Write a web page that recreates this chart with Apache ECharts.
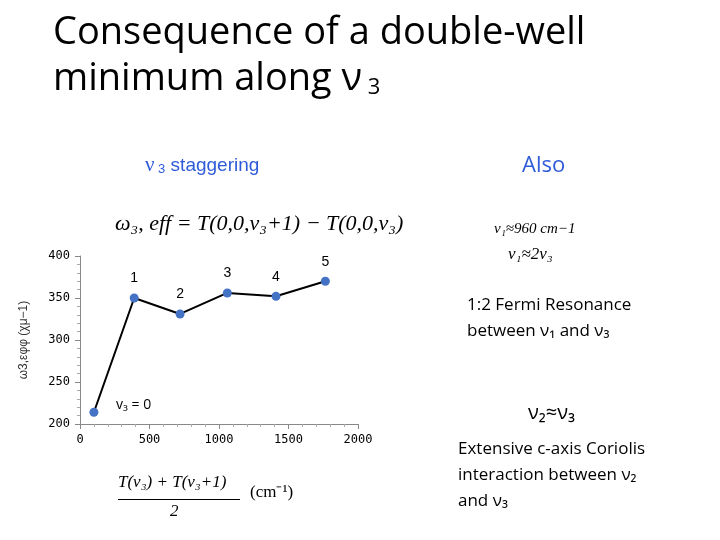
<!DOCTYPE html>
<html>
<head>
<meta charset="utf-8">
<script src="https://cdn.jsdelivr.net/npm/echarts@6/dist/echarts.min.js"></script>
<style>html,body{margin:0;padding:0;background:#fff}#main{width:720px;height:540px}</style>
</head>
<body>
<div id="main"></div>
<script>
// data
const xValues = [100, 390, 720, 1060, 1410, 1765];
const yValues = [214, 350, 331, 356, 352, 370];
const pointLabels = ['', '1', '2', '3', '4', '5'];
const xTicks = [0, 500, 1000, 1500, 2000];
const yTicks = [200, 250, 300, 350, 400];

const chart = echarts.init(document.getElementById('main'));
const txt = (x, y, text, size, color, extra) => ({
  type: 'text', left: x, top: y,
  style: Object.assign({ text: text, fontSize: size, fill: color || '#000', fontFamily: 'Open Sans' }, extra || {})
});
const serif = { fontFamily: 'Liberation Serif', fontStyle: 'italic' };

chart.setOption({
  animation: false,
  grid: { left: 80, right: 362, top: 256, bottom: 116 },
  xAxis: {
    type: 'value', min: 0, max: 2000, interval: 500,
    axisLine: { lineStyle: { color: '#888' } },
    axisTick: { show: true, lineStyle: { color: '#888' } },
    minorTick: { show: true, splitNumber: 5, lineStyle: { color: '#aaa' } },
    splitLine: { show: false },
    axisLabel: { color: '#000', fontSize: 12, fontFamily: 'DejaVu Sans Mono', margin: 10,
      formatter: v => xTicks.includes(v) ? String(v) : '' }
  },
  yAxis: {
    type: 'value', min: 200, max: 400, interval: 50,
    name: 'ω3,εφφ (χμ−1)', nameLocation: 'middle', nameGap: 50,
    nameTextStyle: { color: '#333', fontSize: 12 },
    axisLine: { show: true, lineStyle: { color: '#888' } },
    axisTick: { show: true, lineStyle: { color: '#888' } },
    minorTick: { show: true, splitNumber: 5, lineStyle: { color: '#aaa' } },
    splitLine: { show: false },
    axisLabel: { color: '#000', fontSize: 12, fontFamily: 'DejaVu Sans Mono', margin: 10,
      formatter: v => yTicks.includes(v) ? String(v) : '' }
  },
  series: [{
    type: 'line',
    data: xValues.map((x, i) => [x, yValues[i]]),
    symbol: 'circle', symbolSize: 9,
    lineStyle: { color: '#000', width: 2 },
    itemStyle: { color: '#4472c4' },
    label: {
      show: true, position: 'top', distance: 8, fontSize: 14, color: '#000',
      formatter: p => pointLabels[p.dataIndex]
    }
  }],
  graphic: [
    txt(53, 14, 'Consequence of a double-well', 38, '#000', { letterSpacing: -0.5 }),
    txt(53, 60, '{a|minimum along ν}{s| 3}', 38, '#000', {
      letterSpacing: -0.5,
      rich: { a: { fontSize: 38, fontFamily: 'Open Sans' }, s: { fontSize: 22, fontFamily: 'Open Sans', padding: [18, 0, 0, 0] } }
    }),
    txt(145, 155, '{a|ν}{s| 3}{b| staggering}', 20, '#2e5bd9', {
      rich: { a: { fontSize: 21, fontFamily: 'Liberation Serif', color: '#2e5bd9' },
        s: { fontSize: 13, color: '#2e5bd9', padding: [8, 0, 0, 0] },
        b: { fontSize: 19, color: '#2e5bd9' } }
    }),
    txt(522, 155, 'Also', 22, '#2e5bd9'),
    txt(115, 213, 'ω₃, eff = T(0,0,v₃+1) − T(0,0,v₃)', 22, '#000', serif),
    txt(116, 398, 'v₃ = 0', 14, '#000'),
    txt(118, 474, 'T(v₃) + T(v₃+1)', 17, '#000', serif),
    { type: 'rect', shape: { x: 118, y: 499, width: 122, height: 1 }, style: { fill: '#000' } },
    txt(170, 503, '2', 17, '#000', serif),
    txt(250, 484, '(cm⁻¹)', 17, '#000', { fontFamily: 'Liberation Serif' }),
    txt(494, 222, 'v₁≈960 cm−1', 15, '#000', serif),
    txt(508, 246, 'ν₁≈2ν₃', 17, '#000', serif),
    txt(467, 292, '1:2 Fermi Resonance\nbetween ν₁ and ν₃', 17, '#000', { lineHeight: 26 }),
    txt(528, 403, 'ν₂≈ν₃', 20, '#000'),
    txt(458, 436, 'Extensive c-axis Coriolis\ninteraction between ν₂\nand ν₃', 17, '#000', { lineHeight: 26 })
  ]
});
</script>
</body>
</html>
